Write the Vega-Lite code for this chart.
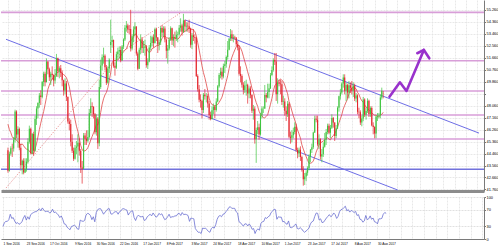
{
"$schema":"https://vega.github.io/schema/vega-lite/v6.json",
"padding":0,
"background":"#ffffff",
"spacing":2,
"resolve":{"scale":{"x":"independent","y":"independent","color":"independent"}},
"config":{"view":{"stroke":null},"font":"Liberation Sans","axis":{"labelFont":"Liberation Sans","labelColor":"#000000","labelFontSize":3.9,"title":null}},
"datasets":{
"px":[
{"t":0,"o":44.70,"h":44.90,"l":43.02,"c":43.16,"m":46.66,"r":30},
{"t":1,"o":43.16,"h":44.60,"l":43.10,"c":44.44,"m":46.25,"r":39},
{"t":2,"o":44.44,"h":45.00,"l":44.30,"c":44.85,"m":46.03,"r":42},
{"t":3,"o":44.85,"h":45.20,"l":44.20,"c":44.83,"m":45.71,"r":42},
{"t":4,"o":44.83,"h":45.70,"l":44.60,"c":45.50,"m":45.58,"r":46},
{"t":5,"o":45.50,"h":47.75,"l":45.30,"c":47.62,"m":45.61,"r":59},
{"t":6,"o":47.62,"h":47.70,"l":45.60,"c":45.88,"m":45.43,"r":49},
{"t":7,"o":45.88,"h":46.50,"l":44.90,"c":46.29,"m":45.36,"r":51},
{"t":8,"o":46.29,"h":46.40,"l":44.70,"c":44.90,"m":45.22,"r":43},
{"t":9,"o":44.90,"h":45.20,"l":43.30,"c":43.58,"m":45.11,"r":37},
{"t":10,"o":43.58,"h":44.00,"l":42.90,"c":43.91,"m":45.18,"r":39},
{"t":11,"o":43.91,"h":44.10,"l":42.90,"c":43.03,"m":45.04,"r":35},
{"t":12,"o":43.03,"h":44.10,"l":43.00,"c":43.30,"m":44.88,"r":37},
{"t":13,"o":43.30,"h":44.10,"l":43.10,"c":43.85,"m":44.79,"r":41},
{"t":14,"o":43.85,"h":45.60,"l":43.70,"c":45.34,"m":44.77,"r":50},
{"t":15,"o":45.34,"h":46.55,"l":45.20,"c":46.32,"m":44.64,"r":56},
{"t":16,"o":46.32,"h":46.40,"l":44.40,"c":44.48,"m":44.50,"r":45},
{"t":17,"o":44.48,"h":46.00,"l":44.40,"c":45.93,"m":44.46,"r":53},
{"t":18,"o":45.93,"h":46.10,"l":44.30,"c":44.67,"m":44.44,"r":47},
{"t":19,"o":44.67,"h":47.30,"l":44.60,"c":47.05,"m":44.79,"r":58},
{"t":20,"o":47.05,"h":48.00,"l":46.60,"c":47.83,"m":45.18,"r":61},
{"t":21,"o":47.83,"h":48.30,"l":47.10,"c":48.24,"m":45.70,"r":63},
{"t":22,"o":48.24,"h":49.00,"l":47.90,"c":48.81,"m":46.25,"r":65},
{"t":23,"o":48.81,"h":49.20,"l":48.10,"c":48.69,"m":46.74,"r":65},
{"t":24,"o":48.69,"h":49.90,"l":48.60,"c":49.83,"m":47.19,"r":69},
{"t":25,"o":49.83,"h":50.60,"l":49.50,"c":50.44,"m":47.60,"r":72},
{"t":26,"o":50.44,"h":50.60,"l":49.50,"c":49.81,"m":48.13,"r":67},
{"t":27,"o":49.81,"h":51.60,"l":49.80,"c":51.35,"m":48.67,"r":74},
{"t":28,"o":51.35,"h":51.40,"l":50.40,"c":50.79,"m":49.28,"r":69},
{"t":29,"o":50.79,"h":50.90,"l":49.90,"c":50.18,"m":49.60,"r":65},
{"t":30,"o":50.18,"h":50.60,"l":49.60,"c":50.44,"m":49.86,"r":66},
{"t":31,"o":50.44,"h":51.00,"l":50.00,"c":50.35,"m":50.07,"r":66},
{"t":32,"o":50.35,"h":50.40,"l":49.50,"c":49.94,"m":50.18,"r":62},
{"t":33,"o":49.94,"h":50.80,"l":49.70,"c":50.29,"m":50.34,"r":64},
{"t":34,"o":50.29,"h":51.93,"l":50.20,"c":51.60,"m":50.52,"r":71},
{"t":35,"o":51.60,"h":51.65,"l":50.20,"c":50.63,"m":50.54,"r":63},
{"t":36,"o":50.63,"h":51.00,"l":50.10,"c":50.85,"m":50.64,"r":64},
{"t":37,"o":50.85,"h":51.10,"l":50.20,"c":50.52,"m":50.56,"r":61},
{"t":38,"o":50.52,"h":50.70,"l":49.50,"c":49.96,"m":50.48,"r":57},
{"t":39,"o":49.96,"h":50.00,"l":48.80,"c":49.18,"m":50.38,"r":51},
{"t":40,"o":49.18,"h":50.10,"l":48.90,"c":49.72,"m":50.30,"r":55},
{"t":41,"o":49.72,"h":49.90,"l":48.40,"c":48.70,"m":50.14,"r":47},
{"t":42,"o":48.70,"h":48.75,"l":46.70,"c":46.86,"m":49.83,"r":36},
{"t":43,"o":46.86,"h":47.10,"l":46.20,"c":46.67,"m":49.47,"r":35},
{"t":44,"o":46.67,"h":47.00,"l":45.00,"c":45.34,"m":48.84,"r":28},
{"t":45,"o":45.34,"h":45.90,"l":44.50,"c":44.66,"m":48.25,"r":25},
{"t":46,"o":44.66,"h":44.90,"l":43.90,"c":44.07,"m":47.57,"r":22},
{"t":47,"o":44.07,"h":45.10,"l":44.00,"c":44.89,"m":47.01,"r":30},
{"t":48,"o":44.89,"h":45.40,"l":44.40,"c":44.98,"m":46.51,"r":31},
{"t":49,"o":44.98,"h":45.90,"l":43.80,"c":45.27,"m":46.12,"r":33},
{"t":50,"o":45.27,"h":45.60,"l":44.30,"c":44.66,"m":45.61,"r":30},
{"t":51,"o":44.66,"h":44.80,"l":43.00,"c":43.41,"m":45.08,"r":24},
{"t":52,"o":43.41,"h":43.90,"l":42.20,"c":43.32,"m":44.73,"r":23},
{"t":53,"o":43.32,"h":46.00,"l":43.30,"c":45.81,"m":44.64,"r":45},
{"t":54,"o":45.81,"h":46.00,"l":45.10,"c":45.57,"m":44.66,"r":43},
{"t":55,"o":45.57,"h":46.20,"l":45.10,"c":45.42,"m":44.74,"r":42},
{"t":56,"o":45.42,"h":46.20,"l":45.30,"c":45.69,"m":44.90,"r":44},
{"t":57,"o":45.69,"h":47.80,"l":45.60,"c":47.49,"m":45.16,"r":57},
{"t":58,"o":47.49,"h":48.60,"l":47.30,"c":48.03,"m":45.47,"r":61},
{"t":59,"o":48.03,"h":48.30,"l":47.20,"c":47.96,"m":45.74,"r":60},
{"t":60,"o":47.96,"h":48.00,"l":47.10,"c":47.40,"m":46.01,"r":56},
{"t":61,"o":47.40,"h":47.50,"l":45.90,"c":46.06,"m":46.28,"r":46},
{"t":62,"o":46.06,"h":47.40,"l":45.80,"c":47.08,"m":46.65,"r":53},
{"t":63,"o":47.08,"h":47.20,"l":44.80,"c":45.23,"m":46.59,"r":41},
{"t":64,"o":45.23,"h":50.00,"l":45.00,"c":49.44,"m":46.98,"r":63},
{"t":65,"o":49.44,"h":51.50,"l":49.30,"c":51.06,"m":47.54,"r":70},
{"t":66,"o":51.06,"h":51.90,"l":50.70,"c":51.68,"m":48.14,"r":72},
{"t":67,"o":51.68,"h":52.40,"l":51.20,"c":51.79,"m":48.57,"r":72},
{"t":68,"o":51.79,"h":51.90,"l":50.70,"c":50.93,"m":48.86,"r":66},
{"t":69,"o":50.93,"h":51.10,"l":49.60,"c":49.77,"m":49.04,"r":59},
{"t":70,"o":49.77,"h":51.00,"l":49.70,"c":50.84,"m":49.39,"r":64},
{"t":71,"o":50.84,"h":51.60,"l":50.50,"c":51.50,"m":49.93,"r":67},
{"t":72,"o":52.60,"h":54.50,"l":52.00,"c":52.83,"m":50.51,"r":72},
{"t":73,"o":52.83,"h":53.30,"l":52.40,"c":52.98,"m":51.28,"r":72},
{"t":74,"o":52.98,"h":53.00,"l":50.90,"c":51.04,"m":51.44,"r":60},
{"t":75,"o":51.04,"h":51.30,"l":50.30,"c":50.90,"m":51.43,"r":59},
{"t":76,"o":50.90,"h":52.10,"l":50.80,"c":51.90,"m":51.45,"r":63},
{"t":77,"o":51.90,"h":52.40,"l":51.50,"c":52.12,"m":51.48,"r":65},
{"t":78,"o":52.12,"h":52.50,"l":51.60,"c":52.23,"m":51.61,"r":65},
{"t":79,"o":52.23,"h":52.50,"l":51.30,"c":51.44,"m":51.78,"r":59},
{"t":80,"o":51.44,"h":52.60,"l":51.40,"c":52.49,"m":51.94,"r":65},
{"t":81,"o":52.49,"h":53.10,"l":52.30,"c":53.02,"m":52.10,"r":67},
{"t":82,"o":53.02,"h":54.10,"l":52.90,"c":53.90,"m":52.20,"r":72},
{"t":83,"o":53.90,"h":54.40,"l":53.60,"c":54.06,"m":52.31,"r":72},
{"t":84,"o":54.06,"h":54.20,"l":53.50,"c":53.77,"m":52.58,"r":70},
{"t":85,"o":53.77,"h":54.10,"l":53.40,"c":53.72,"m":52.87,"r":69},
{"t":86,"o":53.80,"h":55.24,"l":52.11,"c":52.33,"m":52.91,"r":57},
{"t":87,"o":52.33,"h":53.40,"l":52.20,"c":53.26,"m":53.02,"r":63},
{"t":88,"o":53.26,"h":54.00,"l":52.80,"c":53.76,"m":53.18,"r":66},
{"t":89,"o":53.76,"h":54.30,"l":53.30,"c":53.99,"m":53.43,"r":67},
{"t":90,"o":53.99,"h":54.00,"l":51.80,"c":51.96,"m":53.38,"r":51},
{"t":91,"o":51.96,"h":52.10,"l":50.70,"c":50.82,"m":53.16,"r":44},
{"t":92,"o":50.82,"h":52.40,"l":50.80,"c":52.25,"m":52.99,"r":53},
{"t":93,"o":52.25,"h":53.40,"l":51.90,"c":53.01,"m":52.89,"r":57},
{"t":94,"o":53.01,"h":53.20,"l":52.00,"c":52.37,"m":52.75,"r":53},
{"t":95,"o":52.37,"h":52.90,"l":52.00,"c":52.40,"m":52.62,"r":53},
{"t":96,"o":52.40,"h":53.00,"l":51.80,"c":52.48,"m":52.63,"r":54},
{"t":97,"o":52.48,"h":52.60,"l":50.90,"c":51.08,"m":52.41,"r":44},
{"t":98,"o":51.08,"h":51.60,"l":50.80,"c":51.37,"m":52.17,"r":46},
{"t":99,"o":51.37,"h":52.60,"l":51.30,"c":52.42,"m":52.02,"r":53},
{"t":100,"o":52.42,"h":53.30,"l":52.20,"c":52.75,"m":52.10,"r":56},
{"t":101,"o":52.75,"h":53.30,"l":52.50,"c":53.18,"m":52.33,"r":59},
{"t":102,"o":53.18,"h":53.40,"l":52.40,"c":52.75,"m":52.38,"r":55},
{"t":103,"o":52.75,"h":53.90,"l":52.70,"c":53.78,"m":52.46,"r":62},
{"t":104,"o":53.78,"h":53.90,"l":52.90,"c":53.17,"m":52.54,"r":57},
{"t":105,"o":53.17,"h":53.20,"l":52.00,"c":52.63,"m":52.56,"r":52},
{"t":106,"o":52.63,"h":53.00,"l":52.20,"c":52.81,"m":52.59,"r":54},
{"t":107,"o":52.81,"h":54.00,"l":52.60,"c":53.88,"m":52.87,"r":61},
{"t":108,"o":53.88,"h":54.10,"l":53.20,"c":53.54,"m":53.09,"r":58},
{"t":109,"o":53.54,"h":54.00,"l":53.20,"c":53.83,"m":53.23,"r":60},
{"t":110,"o":53.83,"h":54.00,"l":52.80,"c":53.01,"m":53.26,"r":53},
{"t":111,"o":53.01,"h":53.10,"l":51.60,"c":52.17,"m":53.16,"r":46},
{"t":112,"o":52.17,"h":52.60,"l":51.20,"c":52.34,"m":53.12,"r":48},
{"t":113,"o":52.34,"h":53.20,"l":52.20,"c":53.00,"m":53.04,"r":53},
{"t":114,"o":53.00,"h":54.00,"l":52.90,"c":53.86,"m":53.11,"r":59},
{"t":115,"o":53.86,"h":53.90,"l":52.60,"c":52.93,"m":53.14,"r":51},
{"t":116,"o":52.93,"h":53.40,"l":52.50,"c":53.20,"m":53.18,"r":53},
{"t":117,"o":53.20,"h":53.60,"l":52.40,"c":53.11,"m":53.10,"r":53},
{"t":118,"o":53.11,"h":53.70,"l":52.90,"c":53.36,"m":53.08,"r":55},
{"t":119,"o":53.36,"h":53.60,"l":52.80,"c":53.40,"m":53.04,"r":55},
{"t":120,"o":53.40,"h":54.10,"l":53.30,"c":53.90,"m":53.13,"r":60},
{"t":121,"o":53.90,"h":54.60,"l":53.60,"c":54.06,"m":53.32,"r":61},
{"t":122,"o":54.06,"h":54.20,"l":53.30,"c":53.59,"m":53.44,"r":56},
{"t":123,"o":53.59,"h":54.94,"l":53.50,"c":54.45,"m":53.59,"r":63},
{"t":124,"o":54.45,"h":54.50,"l":53.60,"c":53.99,"m":53.60,"r":58},
{"t":125,"o":53.99,"h":54.30,"l":53.60,"c":54.05,"m":53.71,"r":59},
{"t":126,"o":54.05,"h":54.30,"l":53.60,"c":54.01,"m":53.79,"r":58},
{"t":127,"o":54.01,"h":54.50,"l":53.50,"c":53.83,"m":53.86,"r":56},
{"t":128,"o":53.83,"h":53.90,"l":52.40,"c":52.61,"m":53.79,"r":42},
{"t":129,"o":52.61,"h":53.50,"l":52.30,"c":53.33,"m":53.78,"r":50},
{"t":130,"o":53.33,"h":53.80,"l":52.90,"c":53.20,"m":53.71,"r":49},
{"t":131,"o":53.20,"h":53.40,"l":52.70,"c":53.14,"m":53.62,"r":48},
{"t":132,"o":53.14,"h":53.20,"l":50.20,"c":50.28,"m":53.29,"r":25},
{"t":133,"o":50.28,"h":50.40,"l":49.10,"c":49.28,"m":52.77,"r":20},
{"t":134,"o":49.28,"h":49.60,"l":48.30,"c":48.49,"m":52.22,"r":16},
{"t":135,"o":48.49,"h":48.90,"l":47.90,"c":48.40,"m":51.66,"r":16},
{"t":136,"o":48.40,"h":48.50,"l":47.10,"c":47.72,"m":51.03,"r":13},
{"t":137,"o":47.72,"h":49.00,"l":47.50,"c":48.86,"m":50.53,"r":26},
{"t":138,"o":48.86,"h":49.30,"l":48.50,"c":48.75,"m":50.15,"r":25},
{"t":139,"o":48.75,"h":49.00,"l":48.30,"c":48.78,"m":49.69,"r":26},
{"t":140,"o":48.78,"h":48.90,"l":47.90,"c":48.22,"m":49.19,"r":22},
{"t":141,"o":48.22,"h":48.40,"l":47.00,"c":47.34,"m":48.61,"r":18},
{"t":142,"o":47.34,"h":47.60,"l":46.95,"c":47.04,"m":48.29,"r":16},
{"t":143,"o":47.04,"h":48.00,"l":47.00,"c":47.70,"m":48.13,"r":25},
{"t":144,"o":47.70,"h":48.20,"l":47.40,"c":47.97,"m":48.08,"r":28},
{"t":145,"o":47.97,"h":48.10,"l":47.10,"c":47.73,"m":48.01,"r":26},
{"t":146,"o":47.73,"h":48.60,"l":47.60,"c":48.37,"m":48.08,"r":34},
{"t":147,"o":48.37,"h":49.60,"l":48.30,"c":49.51,"m":48.14,"r":47},
{"t":148,"o":49.51,"h":50.50,"l":49.40,"c":50.35,"m":48.30,"r":54},
{"t":149,"o":50.35,"h":50.90,"l":50.10,"c":50.60,"m":48.48,"r":56},
{"t":150,"o":50.60,"h":50.90,"l":50.00,"c":50.24,"m":48.69,"r":53},
{"t":151,"o":50.24,"h":51.20,"l":50.10,"c":51.03,"m":49.05,"r":59},
{"t":152,"o":51.03,"h":51.40,"l":50.50,"c":51.15,"m":49.47,"r":60},
{"t":153,"o":51.15,"h":51.80,"l":50.90,"c":51.70,"m":49.87,"r":65},
{"t":154,"o":51.70,"h":52.90,"l":51.50,"c":52.24,"m":50.29,"r":69},
{"t":155,"o":52.24,"h":53.10,"l":52.20,"c":53.08,"m":50.83,"r":75},
{"t":156,"o":53.08,"h":53.80,"l":52.90,"c":53.40,"m":51.33,"r":77},
{"t":157,"o":53.40,"h":53.70,"l":52.90,"c":53.11,"m":51.69,"r":73},
{"t":158,"o":53.11,"h":53.40,"l":52.80,"c":53.18,"m":51.97,"r":73},
{"t":159,"o":53.18,"h":53.30,"l":53.00,"c":53.15,"m":52.23,"r":73},
{"t":160,"o":53.15,"h":53.20,"l":52.50,"c":52.65,"m":52.47,"r":65},
{"t":161,"o":52.65,"h":52.90,"l":52.20,"c":52.41,"m":52.61,"r":62},
{"t":162,"o":52.41,"h":52.60,"l":50.30,"c":50.44,"m":52.54,"r":41},
{"t":163,"o":50.44,"h":51.00,"l":49.80,"c":50.27,"m":52.39,"r":39},
{"t":164,"o":50.27,"h":50.40,"l":49.40,"c":49.62,"m":52.13,"r":34},
{"t":165,"o":49.62,"h":49.80,"l":48.90,"c":49.23,"m":51.75,"r":31},
{"t":166,"o":49.23,"h":49.90,"l":49.00,"c":49.56,"m":51.36,"r":36},
{"t":167,"o":49.56,"h":50.00,"l":48.80,"c":49.62,"m":51.01,"r":36},
{"t":168,"o":49.62,"h":49.70,"l":48.20,"c":48.97,"m":50.59,"r":31},
{"t":169,"o":48.97,"h":49.50,"l":48.60,"c":49.33,"m":50.21,"r":36},
{"t":170,"o":49.33,"h":49.50,"l":48.60,"c":48.84,"m":49.83,"r":31},
{"t":171,"o":48.84,"h":48.90,"l":47.50,"c":47.66,"m":49.35,"r":23},
{"t":172,"o":47.66,"h":48.10,"l":47.00,"c":47.82,"m":49.09,"r":25},
{"t":173,"o":47.82,"h":48.00,"l":45.20,"c":45.52,"m":48.62,"r":13},
{"t":174,"o":45.52,"h":46.40,"l":43.76,"c":46.22,"m":48.28,"r":21},
{"t":175,"o":46.22,"h":46.90,"l":45.90,"c":46.43,"m":48.00,"r":24},
{"t":176,"o":46.43,"h":46.70,"l":45.50,"c":45.88,"m":47.63,"r":21},
{"t":177,"o":45.88,"h":47.50,"l":45.80,"c":47.33,"m":47.40,"r":37},
{"t":178,"o":47.33,"h":48.00,"l":47.10,"c":47.83,"m":47.29,"r":41},
{"t":179,"o":47.83,"h":48.00,"l":47.50,"c":47.84,"m":47.14,"r":42},
{"t":180,"o":47.84,"h":49.60,"l":47.80,"c":48.85,"m":47.14,"r":51},
{"t":181,"o":48.85,"h":49.00,"l":48.30,"c":48.66,"m":47.24,"r":49},
{"t":182,"o":48.66,"h":49.70,"l":48.60,"c":49.07,"m":47.36,"r":53},
{"t":183,"o":49.07,"h":49.70,"l":48.60,"c":49.35,"m":47.75,"r":55},
{"t":184,"o":49.35,"h":50.50,"l":49.30,"c":50.33,"m":48.16,"r":63},
{"t":185,"o":50.33,"h":51.00,"l":50.30,"c":50.73,"m":48.59,"r":66},
{"t":186,"o":50.73,"h":51.60,"l":50.60,"c":51.47,"m":49.15,"r":71},
{"t":187,"o":51.47,"h":52.00,"l":51.10,"c":51.36,"m":49.55,"r":70},
{"t":188,"o":51.36,"h":52.00,"l":48.40,"c":48.90,"m":49.66,"r":47},
{"t":189,"o":48.90,"h":50.10,"l":48.20,"c":49.80,"m":49.85,"r":53},
{"t":190,"o":49.80,"h":50.00,"l":49.50,"c":49.70,"m":49.94,"r":52},
{"t":191,"o":49.70,"h":50.00,"l":48.90,"c":49.66,"m":50.04,"r":52},
{"t":192,"o":49.66,"h":49.90,"l":48.10,"c":48.32,"m":49.96,"r":41},
{"t":193,"o":48.32,"h":48.80,"l":47.90,"c":48.36,"m":49.86,"r":42},
{"t":194,"o":48.36,"h":48.60,"l":47.30,"c":47.66,"m":49.60,"r":37},
{"t":195,"o":47.66,"h":48.00,"l":46.90,"c":47.40,"m":49.26,"r":35},
{"t":196,"o":47.40,"h":48.40,"l":47.20,"c":48.19,"m":48.94,"r":43},
{"t":197,"o":48.19,"h":48.30,"l":45.60,"c":45.72,"m":48.37,"r":28},
{"t":198,"o":45.72,"h":46.10,"l":45.20,"c":45.64,"m":48.05,"r":27},
{"t":199,"o":45.64,"h":46.20,"l":45.30,"c":45.83,"m":47.65,"r":29},
{"t":200,"o":45.83,"h":46.40,"l":45.60,"c":46.08,"m":47.29,"r":32},
{"t":201,"o":46.08,"h":46.80,"l":45.90,"c":46.46,"m":46.97,"r":36},
{"t":202,"o":46.46,"h":46.70,"l":44.60,"c":44.73,"m":46.61,"r":25},
{"t":203,"o":44.73,"h":44.90,"l":44.10,"c":44.46,"m":46.22,"r":24},
{"t":204,"o":44.46,"h":44.90,"l":44.20,"c":44.74,"m":45.93,"r":27},
{"t":205,"o":44.74,"h":45.00,"l":43.90,"c":44.20,"m":45.61,"r":24},
{"t":206,"o":44.20,"h":44.30,"l":43.10,"c":43.23,"m":45.11,"r":19},
{"t":207,"o":43.23,"h":43.50,"l":42.05,"c":42.53,"m":44.79,"r":16},
{"t":208,"o":42.53,"h":43.00,"l":42.10,"c":42.74,"m":44.50,"r":19},
{"t":209,"o":42.74,"h":43.20,"l":42.40,"c":43.01,"m":44.22,"r":22},
{"t":210,"o":43.01,"h":43.50,"l":42.80,"c":43.38,"m":43.95,"r":26},
{"t":211,"o":43.38,"h":44.40,"l":43.20,"c":44.24,"m":43.73,"r":36},
{"t":212,"o":44.24,"h":44.80,"l":43.80,"c":44.74,"m":43.73,"r":41},
{"t":213,"o":44.74,"h":45.20,"l":44.50,"c":44.93,"m":43.77,"r":43},
{"t":214,"o":44.93,"h":46.10,"l":44.80,"c":46.04,"m":43.90,"r":54},
{"t":215,"o":46.04,"h":47.30,"l":46.00,"c":47.07,"m":44.19,"r":62},
{"t":216,"o":47.07,"h":47.30,"l":46.80,"c":47.00,"m":44.57,"r":61},
{"t":217,"o":47.00,"h":47.30,"l":45.00,"c":45.13,"m":44.83,"r":45},
{"t":218,"o":45.13,"h":45.90,"l":44.80,"c":45.52,"m":45.11,"r":48},
{"t":219,"o":45.52,"h":45.60,"l":44.00,"c":44.23,"m":45.23,"r":39},
{"t":220,"o":44.23,"h":44.80,"l":43.80,"c":44.40,"m":45.33,"r":40},
{"t":221,"o":44.40,"h":45.30,"l":44.20,"c":44.96,"m":45.40,"r":45},
{"t":222,"o":44.96,"h":46.00,"l":44.90,"c":45.49,"m":45.48,"r":50},
{"t":223,"o":45.49,"h":46.30,"l":45.10,"c":46.08,"m":45.59,"r":54},
{"t":224,"o":46.08,"h":46.70,"l":45.90,"c":46.54,"m":45.64,"r":58},
{"t":225,"o":46.54,"h":46.70,"l":45.90,"c":46.02,"m":45.54,"r":53},
{"t":226,"o":46.02,"h":46.60,"l":45.60,"c":46.40,"m":45.48,"r":56},
{"t":227,"o":46.40,"h":47.40,"l":46.30,"c":47.12,"m":45.68,"r":62},
{"t":228,"o":47.12,"h":47.20,"l":46.40,"c":46.79,"m":45.80,"r":58},
{"t":229,"o":46.79,"h":46.80,"l":45.40,"c":45.77,"m":45.96,"r":49},
{"t":230,"o":45.77,"h":46.60,"l":45.60,"c":46.34,"m":46.15,"r":54},
{"t":231,"o":46.34,"h":48.00,"l":46.30,"c":47.89,"m":46.44,"r":65},
{"t":232,"o":47.89,"h":48.80,"l":47.60,"c":48.75,"m":46.77,"r":70},
{"t":233,"o":48.75,"h":49.30,"l":48.50,"c":49.04,"m":47.07,"r":71},
{"t":234,"o":49.04,"h":49.80,"l":48.90,"c":49.71,"m":47.38,"r":75},
{"t":235,"o":49.71,"h":50.40,"l":49.40,"c":50.17,"m":47.80,"r":78},
{"t":236,"o":50.17,"h":50.40,"l":48.90,"c":49.16,"m":48.07,"r":67},
{"t":237,"o":49.16,"h":49.80,"l":48.40,"c":49.59,"m":48.32,"r":70},
{"t":238,"o":49.59,"h":49.70,"l":48.60,"c":49.03,"m":48.55,"r":64},
{"t":239,"o":49.03,"h":49.90,"l":48.60,"c":49.58,"m":48.93,"r":68},
{"t":240,"o":49.58,"h":49.80,"l":49.00,"c":49.39,"m":49.23,"r":66},
{"t":241,"o":49.39,"h":49.90,"l":48.90,"c":49.17,"m":49.36,"r":63},
{"t":242,"o":49.17,"h":49.80,"l":48.70,"c":49.56,"m":49.44,"r":66},
{"t":243,"o":49.56,"h":49.70,"l":48.40,"c":48.59,"m":49.40,"r":56},
{"t":244,"o":48.59,"h":49.00,"l":48.30,"c":48.82,"m":49.31,"r":58},
{"t":245,"o":48.82,"h":48.90,"l":47.40,"c":47.59,"m":49.05,"r":47},
{"t":246,"o":47.59,"h":47.90,"l":47.10,"c":47.55,"m":48.89,"r":46},
{"t":247,"o":47.55,"h":47.70,"l":46.60,"c":46.78,"m":48.61,"r":40},
{"t":248,"o":46.78,"h":47.30,"l":46.50,"c":47.09,"m":48.41,"r":43},
{"t":249,"o":47.09,"h":48.70,"l":46.90,"c":48.51,"m":48.31,"r":56},
{"t":250,"o":48.51,"h":48.60,"l":47.20,"c":47.37,"m":48.10,"r":46},
{"t":251,"o":47.37,"h":47.90,"l":47.00,"c":47.64,"m":47.95,"r":48},
{"t":252,"o":47.64,"h":48.60,"l":47.50,"c":48.41,"m":47.84,"r":55},
{"t":253,"o":48.41,"h":48.50,"l":47.20,"c":47.43,"m":47.72,"r":47},
{"t":254,"o":47.43,"h":48.00,"l":47.20,"c":47.87,"m":47.62,"r":50},
{"t":255,"o":47.87,"h":48.00,"l":46.50,"c":46.57,"m":47.52,"r":41},
{"t":256,"o":46.57,"h":46.80,"l":45.90,"c":46.44,"m":47.41,"r":40},
{"t":257,"o":46.44,"h":46.50,"l":45.60,"c":45.96,"m":47.33,"r":36},
{"t":258,"o":45.96,"h":47.30,"l":45.60,"c":47.23,"m":47.34,"r":48},
{"t":259,"o":47.23,"h":47.50,"l":46.90,"c":47.29,"m":47.22,"r":48},
{"t":260,"o":47.29,"h":47.50,"l":47.10,"c":47.35,"m":47.22,"r":49},
{"t":261,"o":47.35,"h":48.90,"l":47.10,"c":48.66,"m":47.32,"r":59},
{"t":262,"o":48.66,"h":49.40,"l":48.50,"c":49.16,"m":47.40,"r":63},
{"t":263,"o":48.94,"h":49.15,"l":48.60,"c":48.93,"m":47.55,"r":61}
],
"fib":[{"p":55.05,"s":"0.0"},{"p":51.42,"s":"23.6"},{"p":49.15,"s":"38.2"},{"p":47.35,"s":"50.0"},{"p":45.55,"s":"61.8"}],
"blue":[{"p":43.28}],
"ch":[{"g":"up","t":124.2,"p":54.48},{"g":"up","t":330.14,"p":45.99},{"g":"lo","t":-1.37,"p":53.03},{"g":"lo","t":273.2,"p":41.72}],
"dot":[{"t":-1.37,"p":41.87},{"t":79.6,"p":52.07},{"t":120.8,"p":55.0}],
"arr":[{"g":"a","t":267.4,"p":48.72},{"g":"a","t":274.7,"p":49.80},{"g":"a","t":279.3,"p":49.15},{"g":"a","t":291.5,"p":52.23},{"g":"b","t":286.9,"p":51.98},{"g":"b","t":291.5,"p":52.23},{"g":"b","t":295.3,"p":51.60}],
"box":[{"p":48.93,"s":"48.930","k":"cur"},{"p":43.28,"s":"43.280","k":"lvl"}],
"ttl":[{"s":"▼ USOIL,Daily  48.935 49.150 48.600 48.930"}],
"rl":[{"s":"RSI(14) 61.1082"}]
},
"vconcat":[
{"width":483,"height":191,
"encoding":{
 "x":{"field":"t","type":"quantitative","scale":{"domain":[-1.37,330.14],"zero":false,"nice":false},
   "axis":{"orient":"bottom","values":[0,8,16,24,32,40,49,56,64,72,80,88,96,104,112,120,129,136,144,152,161,169,177,185,193,201,209,217,225,233,241,249,257,265,273,281,289,297,305,313,321,329],"labels":false,"ticks":false,"grid":true,"gridColor":"#e2e2e2","gridDash":[2,1],"gridWidth":0.8,"domain":true,"domainColor":"#8c8c8c","domainWidth":3,"title":null}},
 "y":{"field":"p","type":"quantitative","scale":{"domain":[41.647,55.976],"zero":false,"nice":false},
   "axis":{"orient":"right","values":[41.76,42.66,43.56,44.46,45.36,46.26,47.16,48.06,48.96,49.86,50.76,51.66,52.56,53.46,54.36,55.26],"labelExpr":"abs(datum.value-48.96)<0.01 ? '' : format(datum.value,'.3f')","grid":true,"gridColor":"#e2e2e2","gridDash":[2,1],"gridWidth":0.8,"ticks":true,"tickSize":1.5,"tickColor":"#777777","domain":true,"domainColor":"#7a7a7a","labelPadding":0.5,"labelFontSize":3.9,"labelOverlap":false,"labelBound":false,"labelAlign":"left","labelBaseline":"middle","title":null}}
},
"layer":[
{"data":{"name":"fib"},"mark":{"type":"rule","color":"#d89ed8","strokeWidth":1.6},
 "encoding":{"x":null}},
{"data":{"name":"blue"},"mark":{"type":"rule","color":"#7272dc","strokeWidth":1.6},
 "encoding":{"x":null}},
{"data":{"name":"ch"},"mark":{"type":"line","color":"#6e6ee6","strokeWidth":1},
 "encoding":{"detail":{"field":"g","type":"nominal"}}},
{"data":{"name":"dot"},"mark":{"type":"line","color":"#e06a6a","strokeWidth":0.8,"strokeDash":[1,1.5]},
 "encoding":{}},
{"data":{"name":"px"},"mark":{"type":"line","color":"#e04848","strokeWidth":0.8},
 "encoding":{"y":{"field":"m","type":"quantitative"}}},
{"data":{"name":"px"},"mark":{"type":"rule","strokeWidth":0.7},
 "encoding":{"y":{"field":"l","type":"quantitative"},"y2":{"field":"h"},
 "color":{"condition":{"test":"datum.c>=datum.o","value":"#3fc43f"},"value":"#e3262d"}}},
{"data":{"name":"px"},"mark":{"type":"bar","size":1.1},
 "encoding":{"y":{"field":"o","type":"quantitative"},"y2":{"field":"c"},
 "color":{"condition":{"test":"datum.c>=datum.o","value":"#3fc43f"},"value":"#e3262d"}}},
{"data":{"name":"arr"},"mark":{"type":"line","color":"#9932cc","strokeWidth":2.6,"strokeCap":"round","strokeJoin":"round"},
 "encoding":{"detail":{"field":"g","type":"nominal"}}},
{"data":{"name":"fib"},"mark":{"type":"text","align":"right","baseline":"bottom","fontSize":3.4,"color":"#b878b8","dy":-0.3},
 "encoding":{"x":{"datum":329.4,"type":"quantitative"},"text":{"field":"s"}}},
{"data":{"name":"ttl"},"mark":{"type":"text","align":"left","baseline":"top","fontSize":3.4,"color":"#000000"},
 "encoding":{"x":{"datum":-0.3,"type":"quantitative"},"y":{"datum":55.79,"type":"quantitative"},"text":{"field":"s"}}},
{"data":{"name":"box"},"mark":{"type":"point","shape":"M-0.97,-0.615H0.97V0.615H-0.97Z","filled":true,"size":196,"opacity":1,"strokeWidth":0},
 "encoding":{"x":{"datum":336,"type":"quantitative"},
 "color":{"field":"k","type":"nominal","scale":{"domain":["cur","lvl"],"range":["#000000","#6b6be0"]},"legend":null}}},
{"data":{"name":"box"},"mark":{"type":"text","align":"center","baseline":"middle","fontSize":3.9,"color":"#ffffff"},
 "encoding":{"x":{"datum":336,"type":"quantitative"},"text":{"field":"s"}}}
]},
{"width":483,"height":42,
"encoding":{
 "x":{"field":"t","type":"quantitative","scale":{"domain":[-1.37,330.14],"zero":false,"nice":false},
   "axis":{"orient":"bottom","values":[0,8,16,24,32,40,49,56,64,72,80,88,96,104,112,120,129,136,144,152,161,169,177,185,193,201,209,217,225,233,241,249,257,265,273,281,289,297,305,313,321,329],
   "labelExpr":"indexof([0,16,32,49,64,80,96,112,129,144,161,177,193,209,225,241,257], datum.value) < 0 ? '' : ['1 Sep 2016','23 Sep 2016','17 Oct 2016','9 Nov 2016','30 Nov 2016','22 Dec 2016','17 Jan 2017','8 Feb 2017','3 Mar 2017','24 Mar 2017','18 Apr 2017','10 May 2017','1 Jun 2017','23 Jun 2017','17 Jul 2017','8 Aug 2017','30 Aug 2017'][indexof([0,16,32,49,64,80,96,112,129,144,161,177,193,209,225,241,257], datum.value)]",
   "labelFontSize":3.2,"labelAlign":"left","labelPadding":2,"ticks":false,"grid":true,"gridColor":"#e2e2e2","gridDash":[2,1],"gridWidth":0.8,"domain":true,"domainColor":"#7a7a7a","labelOverlap":false,"labelBound":false,"labelFlush":false,"title":null}},
 "y":{"field":"r","type":"quantitative","scale":{"domain":[0,100],"zero":false,"nice":false},
   "axis":{"orient":"right","values":[0,30,70,100],"grid":true,"gridColor":"#d8d8d8","gridDash":[2,1],"gridWidth":0.8,"ticks":true,"tickSize":1.5,"tickColor":"#777777","labelFontSize":3.9,"labelPadding":0.5,"domain":true,"domainColor":"#7a7a7a","labelOverlap":false,"labelBound":false,"labelAlign":"left","title":null}}
},
"layer":[
{"data":{"name":"px"},"mark":{"type":"line","color":"#6a6fd0","strokeWidth":0.8},"encoding":{}},
{"data":{"name":"rl"},"mark":{"type":"text","align":"left","baseline":"top","fontSize":3.2,"color":"#000000"},
 "encoding":{"x":{"datum":-0.3,"type":"quantitative"},"y":{"datum":99,"type":"quantitative"},"text":{"field":"s"}}}
]}
]
}
